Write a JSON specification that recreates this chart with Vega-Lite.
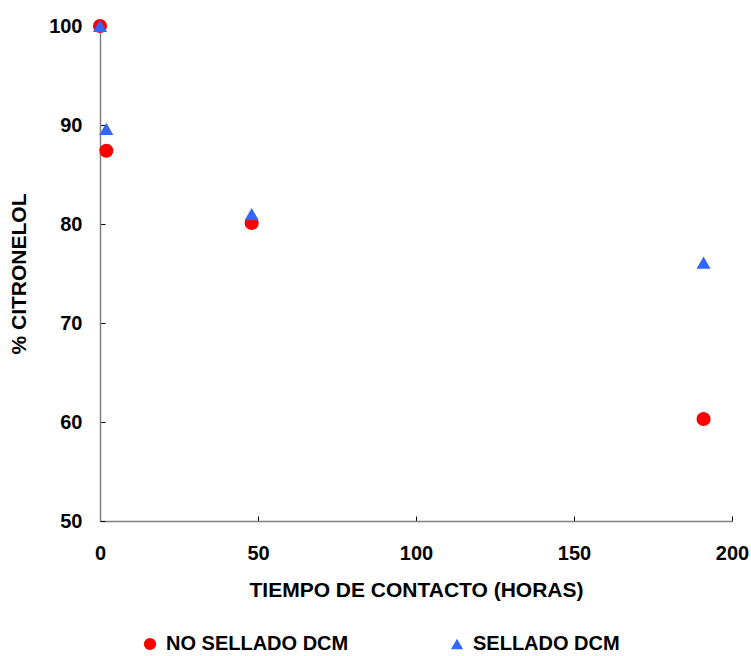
{
  "$schema": "https://vega.github.io/schema/vega-lite/v6.json",
  "width": 632,
  "height": 495,
  "autosize": "none",
  "padding": {"left": 100, "top": 26, "right": 19, "bottom": 135},
  "background": "white",
  "config": {
    "view": {"stroke": null},
    "font": "Liberation Sans",
    "axis": {
      "grid": false,
      "domainColor": "#808080",
      "domainWidth": 1.5,
      "tickColor": "#000000",
      "tickSize": -5,
      "tickWidth": 1,
      "labelFlush": false,
      "labelFont": "Liberation Sans",
      "labelFontWeight": "bold",
      "labelFontSize": 20,
      "labelColor": "#000000",
      "titleFont": "Liberation Sans",
      "titleFontWeight": "bold",
      "titleFontSize": 21,
      "titleColor": "#000000"
    }
  },
  "data": {
    "values": [
      {"horas": 0, "pct": 100, "serie": "NO SELLADO DCM"},
      {"horas": 2, "pct": 87.4, "serie": "NO SELLADO DCM"},
      {"horas": 48, "pct": 80.1, "serie": "NO SELLADO DCM"},
      {"horas": 191, "pct": 60.3, "serie": "NO SELLADO DCM"},
      {"horas": 0, "pct": 100, "serie": "SELLADO DCM"},
      {"horas": 2, "pct": 89.6, "serie": "SELLADO DCM"},
      {"horas": 48, "pct": 81.0, "serie": "SELLADO DCM"},
      {"horas": 191, "pct": 76.1, "serie": "SELLADO DCM"}
    ]
  },
  "mark": {"type": "point", "filled": true, "opacity": 1, "size": 200},
  "encoding": {
    "x": {
      "field": "horas",
      "type": "quantitative",
      "scale": {"domain": [0, 200], "nice": false},
      "axis": {"values": [0, 50, 100, 150, 200], "title": "TIEMPO DE CONTACTO (HORAS)", "labelPadding": 27, "titlePadding": 16}
    },
    "y": {
      "field": "pct",
      "type": "quantitative",
      "scale": {"domain": [50, 100], "nice": false, "zero": false},
      "axis": {"values": [50, 60, 70, 80, 90, 100], "title": "% CITRONELOL", "labelPadding": 23, "titlePadding": 19}
    },
    "color": {
      "field": "serie",
      "type": "nominal",
      "scale": {"domain": ["NO SELLADO DCM", "SELLADO DCM"], "range": ["#FF0000", "#3366FF"]},
      "legend": {
        "title": null,
        "orient": "none",
        "direction": "horizontal",
        "legendX": 40,
        "legendY": 608,
        "labelFont": "Liberation Sans",
        "labelFontWeight": "bold",
        "labelFontSize": 20,
        "labelLimit": 400,
        "labelColor": "#000000",
        "symbolSize": 150,
        "labelOffset": 6,
        "columnPadding": 98
      }
    },
    "shape": {
      "field": "serie",
      "type": "nominal",
      "scale": {"domain": ["NO SELLADO DCM", "SELLADO DCM"], "range": ["circle", "triangle-up"]}
    },
    "order": {"field": "serie", "sort": "ascending"}
  }
}
